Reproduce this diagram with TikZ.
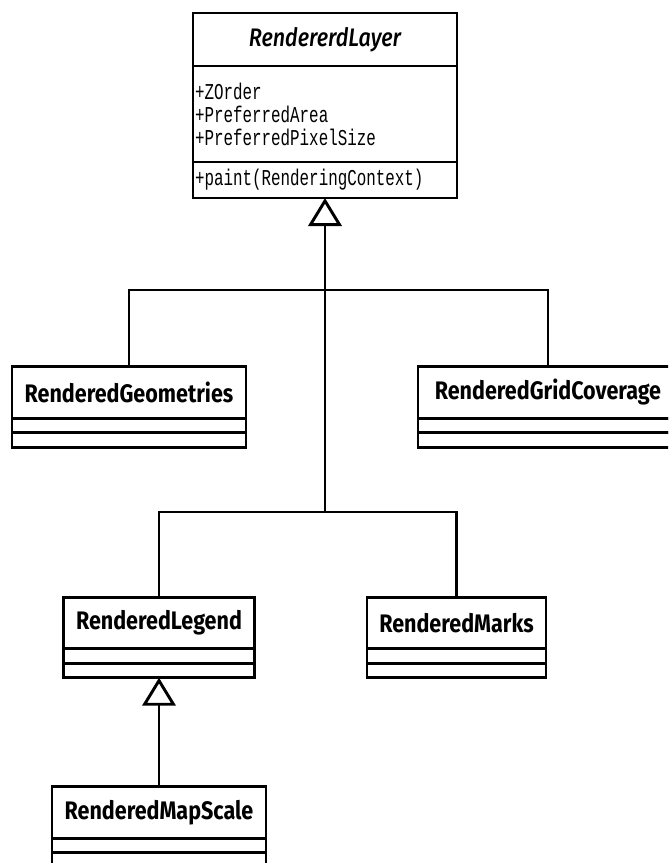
\documentclass[tikz,border=0pt]{standalone}
\usepackage{fontspec}
\newfontfamily\umlsans[FakeStretch=0.85]{Fira Sans}
\newfontfamily\umlsansmed[FakeStretch=0.85]{Fira Sans Medium Italic}
\newfontfamily\umlmono[FakeStretch=0.7]{Liberation Mono}
\usetikzlibrary{positioning, arrows.meta}

\begin{document}
\begin{tikzpicture}[x=0.75pt, y=-0.75pt, line width=2.2pt,
    classname/.style={draw, rectangle, outer sep=0pt, minimum height=38.5pt,
        font=\umlsans\fontsize{19}{22}\selectfont\bfseries},
    abstractname/.style={classname, minimum height=39.75pt,
        font=\umlsansmed\fontsize{19}{22}\selectfont},
    compartment/.style={draw, rectangle, outer sep=0pt, inner sep=0pt, minimum height=10.9pt},
    members/.style={draw, rectangle, outer sep=0pt, inner xsep=1.5pt, inner ysep=0pt,
        align=left, font=\umlmono\fontsize{17}{17.25}\selectfont},
    generalize/.style={-{Triangle[open, length=21pt, width=25pt]}}
]
        \useasboundingbox (0,0) rectangle (668,863);
        \fill[white] (0,0) rectangle (668,863);
        \clip (0,0) rectangle (668,863);

        % Abstract base class
        \node (layer) [abstractname, minimum width=198pt] at (325,39.5) {RendererdLayer};
        \node (layer_attr) [members, below=0pt of layer, minimum width=198pt, text width=195pt, minimum height=72pt]
            {+ZOrder\\+PreferredArea\\+PreferredPixelSize};
        \node (layer_op) [members, below=0pt of layer_attr, minimum width=198pt, text width=195pt, minimum height=27pt]
            {+paint(RenderingContext)};

        % Subclasses, first row
        \node (geom) [classname, minimum width=175.5pt] at (129,392.5) {RenderedGeometries};
        \node (geom_a) [compartment, below=0pt of geom, minimum width=175.5pt] {};
        \node (geom_b) [compartment, below=0pt of geom_a, minimum width=175.5pt] {};

        \node (grid) [classname, minimum width=195pt] at (548,392.5) {RenderedGridCoverage};
        \node (grid_a) [compartment, below=0pt of grid, minimum width=195pt] {};
        \node (grid_b) [compartment, below=0pt of grid_a, minimum width=195pt] {};

        % Subclasses, second row
        \node (legend) [classname, minimum width=143.25pt] at (159,623) {RenderedLegend};
        \node (legend_a) [compartment, below=0pt of legend, minimum width=143.25pt] {};
        \node (legend_b) [compartment, below=0pt of legend_a, minimum width=143.25pt] {};

        \node (marks) [classname, minimum width=134.25pt] at (456.5,623) {RenderedMarks};
        \node (marks_a) [compartment, below=0pt of marks, minimum width=134.25pt] {};
        \node (marks_b) [compartment, below=0pt of marks_a, minimum width=134.25pt] {};

        % Subclass of the legend
        \node (mapscale) [classname, minimum width=160.5pt] at (159,812.5) {RenderedMapScale};
        \node (mapscale_a) [compartment, below=0pt of mapscale, minimum width=160.5pt] {};
        \node (mapscale_b) [compartment, below=0pt of mapscale_a, minimum width=160.5pt] {};

        % Generalization tree
        \coordinate (hub_top) at (325,290);
        \coordinate (hub_low) at (325,512);

        \draw[generalize] (hub_low) -- (layer_op.south);
        \draw (geom.north) |- (hub_top);
        \draw (grid.north) |- (hub_top);
        \draw (legend.north) |- (hub_low);
        \draw (marks.north) |- (hub_low);

        \draw[generalize] (mapscale.north) -- (legend_b.south);
\end{tikzpicture}
\end{document}
